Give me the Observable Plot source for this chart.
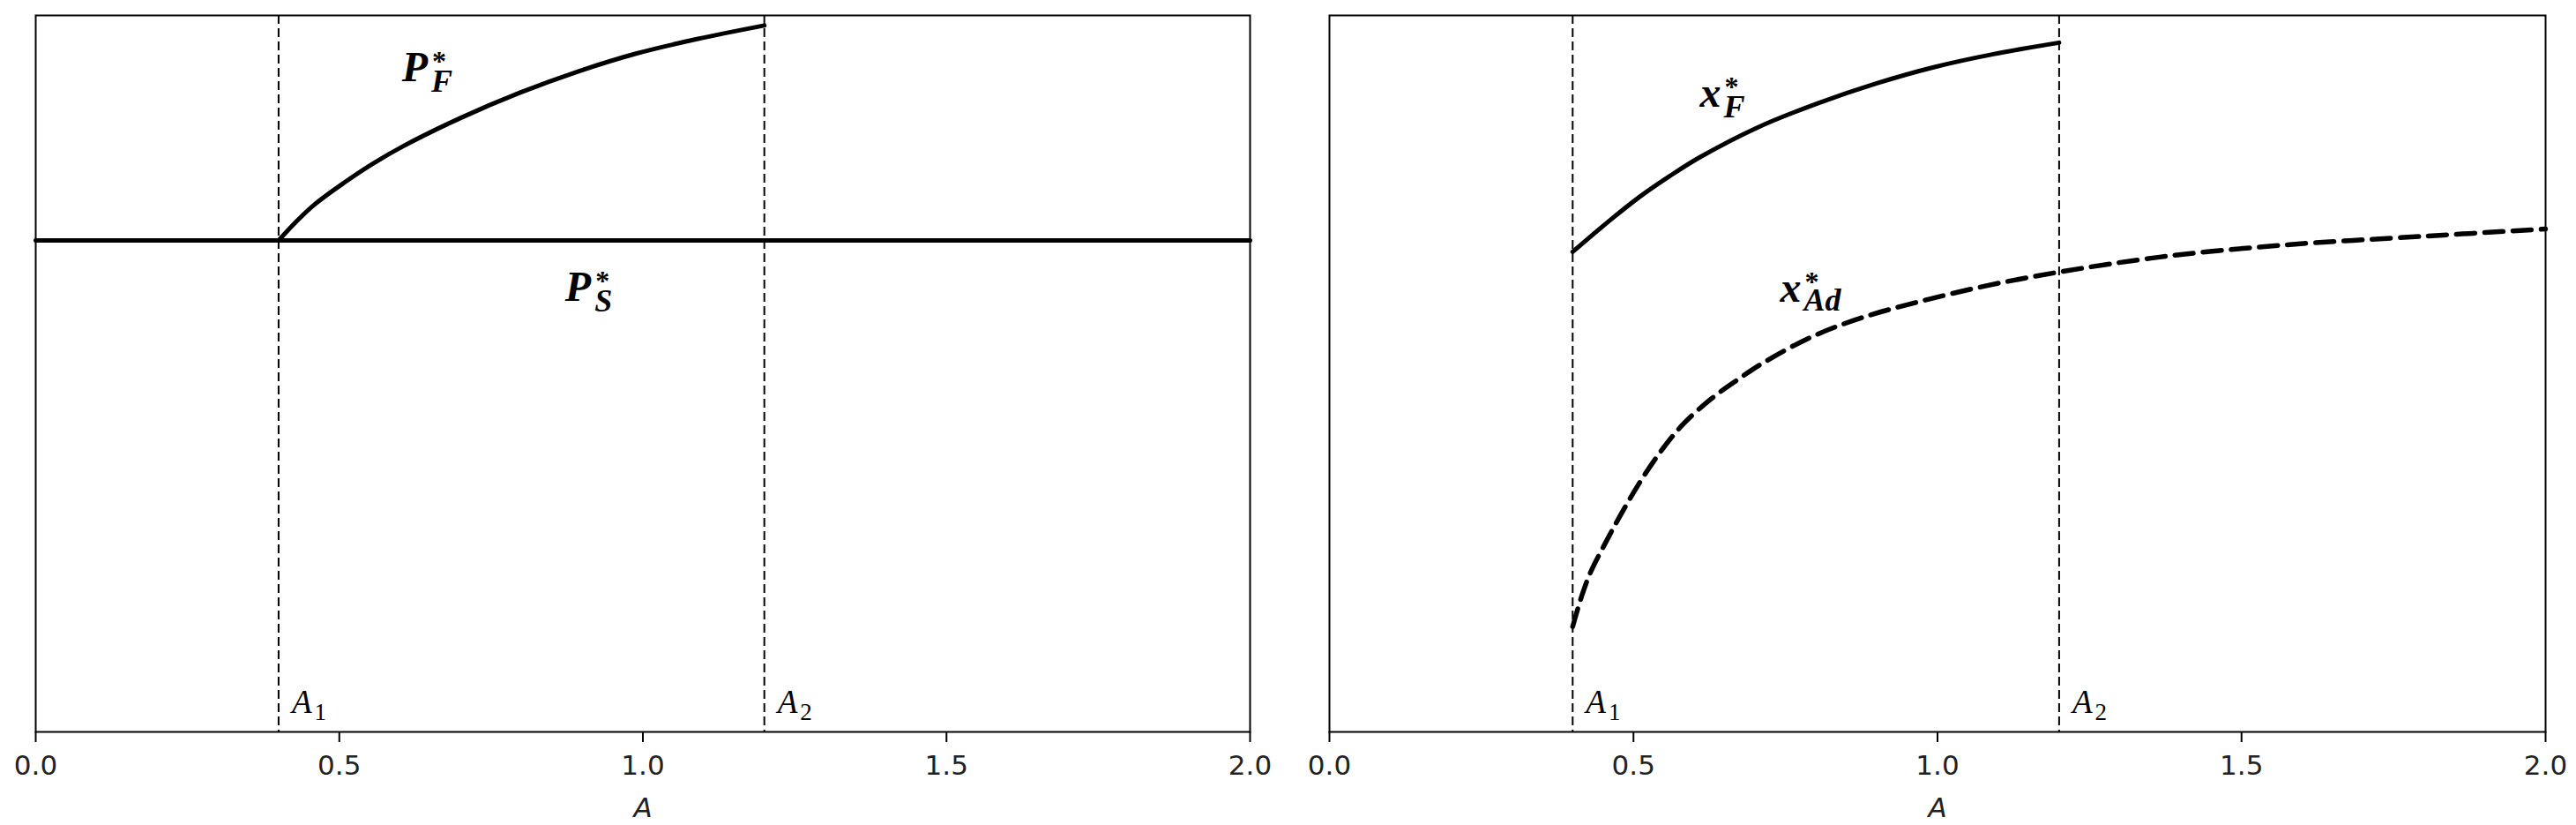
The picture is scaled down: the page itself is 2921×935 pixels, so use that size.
<!DOCTYPE html>
<html>
<head>
<meta charset="utf-8">
<script src="https://cdn.jsdelivr.net/npm/d3@7"></script>
<script src="https://cdn.jsdelivr.net/npm/@observablehq/plot@0.6"></script>
<style>
  html, body { margin: 0; padding: 0; background: #fff; }
  #row { display: flex; width: 2921px; height: 935px; }
  #row svg { overflow: visible; }
</style>
</head>
<body>
<div id="row"></div>
<script>
// ---- data ----
const xTicks = [0, 0.5, 1.0, 1.5, 2.0];
const thresholds = [0.4, 1.2];
const thresholdSubs = ["1", "2"];

// left panel: P*_F (solid curve) and P*_S (flat line)
const pfA = [0.40, 0.43, 0.459, 0.507, 0.555, 0.604, 0.700, 0.797, 0.894, 0.990, 1.089, 1.20];
const pfV = [0.686, 0.713, 0.736, 0.766, 0.793, 0.817, 0.857, 0.892, 0.922, 0.947, 0.967, 0.986];
const psA = [0.0, 2.0];
const psV = [0.686, 0.686];

// right panel: x*_F (solid curve) and x*_Ad (dashed curve)
const xfA = [0.40, 0.464, 0.512, 0.560, 0.609, 0.705, 0.802, 0.899, 0.995, 1.092, 1.20];
const xfV = [0.670, 0.716, 0.748, 0.776, 0.802, 0.844, 0.877, 0.905, 0.928, 0.946, 0.962];
const xadA = [0.400, 0.415, 0.429, 0.454, 0.479, 0.508, 0.541, 0.580, 0.628, 0.672, 0.715, 0.792, 0.875, 0.972, 1.082, 1.201, 1.368, 1.561, 1.803, 2.000];
const xadV = [0.147, 0.190, 0.222, 0.264, 0.303, 0.345, 0.387, 0.428, 0.465, 0.492, 0.516, 0.551, 0.578, 0.601, 0.623, 0.642, 0.663, 0.679, 0.692, 0.702];

// curve labels: main letter | subscript, and where they sit (data units)
const leftLabelText = ["P|F", "P|S"];
const leftLabelAt = [[0.603, 0.908], [0.872, 0.602]];
const rightLabelText = ["x|F", "x|Ad"];
const rightLabelAt = [[0.609, 0.873], [0.741, 0.600]];

const toRows = (xs, ys) => xs.map((a, i) => ({A: a, v: ys[i]}));
const serif = "Liberation Serif, Times New Roman, serif";

function mathLabels(texts, ats) {
  const d = texts.map((t, i) => ({t, x: ats[i][0], y: ats[i][1]}));
  return Plot.text(d, {
    x: "x", y: "y", text: "t", textAnchor: "start", lineAnchor: "bottom",
    fill: "#000", fontFamily: serif, fontSize: 48, fontStyle: "italic", fontWeight: "bold"
  });
}

function thresholdLabels() {
  const d = thresholds.map((t, i) => ({x: t, y: 0, s: "A#" + thresholdSubs[i]}));
  return Plot.text(d, {
    x: "x", y: "y", text: "s", textAnchor: "start", lineAnchor: "bottom",
    dx: 15, dy: -22, fill: "#000", fontFamily: serif, fontSize: 37, fontStyle: "italic"
  });
}

// turn "main|sub" strings into super/subscripted math text (one text element each)
function decorate(svg) {
  d3.select(svg).selectAll("text").each(function () {
    const s = this.textContent;
    const sel = d3.select(this);
    if (s.includes("|")) {
      const [main, sub] = s.split("|");
      const starDx = main === "P" ? 5 : 4;
      sel.text(null);
      sel.append("tspan").text(main);
      sel.append("tspan").attr("dx", starDx).attr("dy", -12)
        .attr("font-size", 32).attr("font-style", "normal").text("*");
      sel.append("tspan").attr("dx", -17).attr("dy", sub === "Ad" ? 22 : 24)
        .attr("font-size", 36).text(sub);
    } else if (s.includes("#")) {
      const [main, sub] = s.split("#");
      sel.text(null);
      sel.append("tspan").text(main);
      sel.append("tspan").attr("dx", 3).attr("dy", 8)
        .attr("font-size", 27).attr("font-style", "normal").text(sub);
    }
  });
  return svg;
}

function panel({width, marginLeft, marginRight, marks}) {
  return decorate(Plot.plot({
    width, height: 935,
    marginLeft, marginRight, marginTop: 17, marginBottom: 106,
    style: {fontFamily: "DejaVu Sans", background: "#fff", overflow: "visible"},
    x: {domain: [0, 2], axis: null},
    y: {domain: [0, 1], axis: null},
    marks: [
      Plot.ruleX(thresholds, {stroke: "#000", strokeWidth: 2, strokeDasharray: "10,5"}),
      ...marks,
      thresholdLabels(),
      Plot.frame({stroke: "#000", strokeWidth: 2}),
      Plot.axisX(xTicks, {
        tickSize: 12, tickPadding: 14, tickFormat: d3.format(".1f"),
        fontSize: 31, fontFamily: "DejaVu Sans", fill: "#222",
        stroke: "#000", strokeWidth: 2, label: null
      }),
      Plot.text(["A"], {x: () => 1, y: () => 0, dy: 87, lineAnchor: "middle", textAnchor: "middle",
        fontSize: 31, fontStyle: "italic", fontFamily: "DejaVu Sans", fill: "#222"})
    ]
  }));
}

const left = panel({
  width: 1460, marginLeft: 40, marginRight: 43,
  marks: [
    Plot.line(toRows(psA, psV), {x: "A", y: "v", stroke: "#000", strokeWidth: 5}),
    Plot.line(toRows(pfA, pfV), {x: "A", y: "v", stroke: "#000", strokeWidth: 5, curve: "catmull-rom"}),
    mathLabels(leftLabelText, leftLabelAt)
  ]
});

const right = panel({
  width: 1461, marginLeft: 47, marginRight: 35,
  marks: [
    Plot.line(toRows(xfA, xfV), {x: "A", y: "v", stroke: "#000", strokeWidth: 5, curve: "catmull-rom"}),
    Plot.line(toRows(xadA, xadV), {x: "A", y: "v", stroke: "#000", strokeWidth: 5.5, strokeDasharray: "21,11", curve: "catmull-rom"}),
    mathLabels(rightLabelText, rightLabelAt)
  ]
});

const row = document.getElementById("row");
row.appendChild(left);
row.appendChild(right);
</script>
</body>
</html>
